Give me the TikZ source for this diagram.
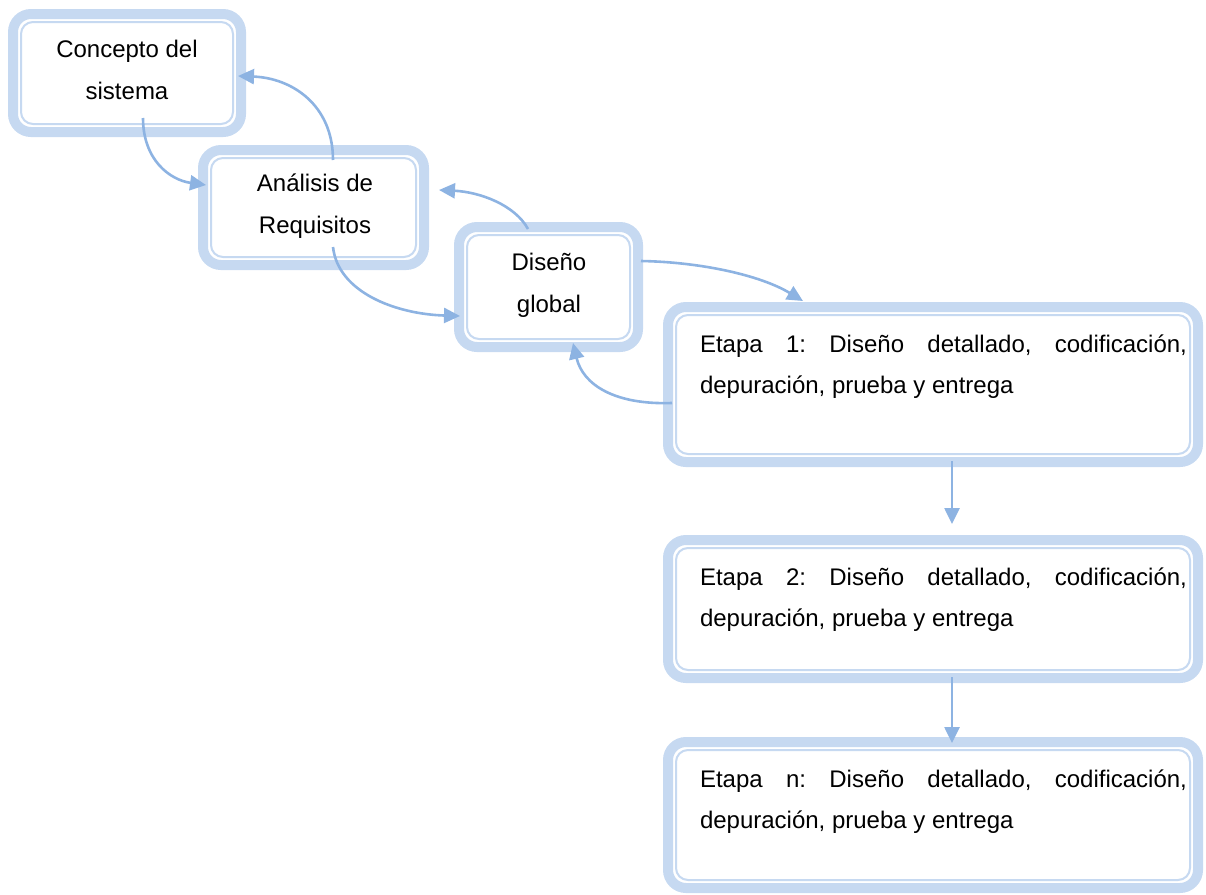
\documentclass[tikz,border=0pt]{standalone}
\usepackage{fontspec}
\setmainfont{Liberation Sans}
\usetikzlibrary{arrows.meta,calc}
\definecolor{bandc}{RGB}{198,217,241}
\definecolor{arrc}{RGB}{141,179,226}
\tikzset{
  box/.style={draw=bandc, line width=5pt, rounded corners=9pt, inner sep=0pt, outer sep=0pt, fill=white},
  innerline/.style={draw=bandc, line width=1pt, rounded corners=6pt},
  txt/.style={inner sep=0pt, outer sep=0pt, font=\fontsize{12pt}{20.7pt}\selectfont\frenchspacing},
  arr/.style={draw=arrc, line width=1.3pt, -{Triangle[length=8pt,width=7.5pt]}}
}
\begin{document}
\begin{tikzpicture}[x=0.5pt,y=-0.5pt]
\useasboundingbox (0,0) rectangle (1206,895);
% boxes
\node[box, minimum width=114pt, minimum height=59pt] (b1) at (127,73) {};
\node[box, minimum width=110.5pt, minimum height=57.5pt] (b2) at (313.5,207.5) {};
\node[box, minimum width=89.5pt, minimum height=60pt] (b3) at (548.5,287) {};
\node[box, minimum width=265pt, minimum height=77.5pt] (b4) at (933,384.5) {};
\node[box, minimum width=265pt, minimum height=69pt] (b5) at (933,609) {};
\node[box, minimum width=265pt, minimum height=73pt] (b6) at (933,815) {};
\foreach \b in {b1,b2,b3,b4,b5,b6}{
  \draw[innerline] ($(\b.north west)+(8,8)$) rectangle ($(\b.south east)+(-8,-8)$);
}
% texts (centred texts: base = last line)
\node[txt, align=center, anchor=base] (t1) at (127,99) {Concepto del\\sistema};
\node[txt, align=center, anchor=base] (t2) at (315,233) {Análisis de\\Requisitos};
\node[txt, align=center, anchor=base] (t3) at (549,312) {Diseño\\global};
\node[txt, text width=243.5pt, align=justify, anchor=base west] (t4) at (700,352) {Etapa 1: Diseño detallado, codificación,\linebreak depuración, prueba y entrega};
\node[txt, text width=243.5pt, align=justify, anchor=base west] (t5) at (700,585) {Etapa 2: Diseño detallado, codificación,\linebreak depuración, prueba y entrega};
\node[txt, text width=243.5pt, align=justify, anchor=base west] (t6) at (700,787) {Etapa n: Diseño detallado, codificación,\linebreak depuración, prueba y entrega};
% connectors
\draw[arr] ($(b2.north)+(19.5,10)$) .. controls (333,105) and (292,78) .. ($(b1.east)+(-3,3)$);
\draw[arr] ($(b1.south)+(16,-14)$) .. controls (143,160) and (170,180) .. ($(b2.west)+(3,-22.5)$);
\draw[arr] ($(b3.north)+(-20.5,2)$) .. controls (515,205) and (480,192) .. ($(b2.east)+(15,-17.5)$);
\draw[arr] ($(b2.south)+(19.5,-18)$) .. controls (338,292) and (395,314) .. ($(b3.west)+(1,29)$);
\draw[arr] ($(b3.east)+(3,-26)$) .. controls (700,262) and (760,275) .. ($(b4.north)+(-130,-6)$);
\draw[arr] ($(b4.west)+(4,18.5)$) .. controls (615,405) and (583,385) .. ($(b3.south)+(24.5,-4)$);
\draw[arr] ($(b4.south)+(19,-1)$) -- ($(b5.north)+(19,-16)$);
\draw[arr] ($(b5.south)+(19,-1)$) -- ($(b6.north)+(19,1)$);
\end{tikzpicture}
\end{document}
